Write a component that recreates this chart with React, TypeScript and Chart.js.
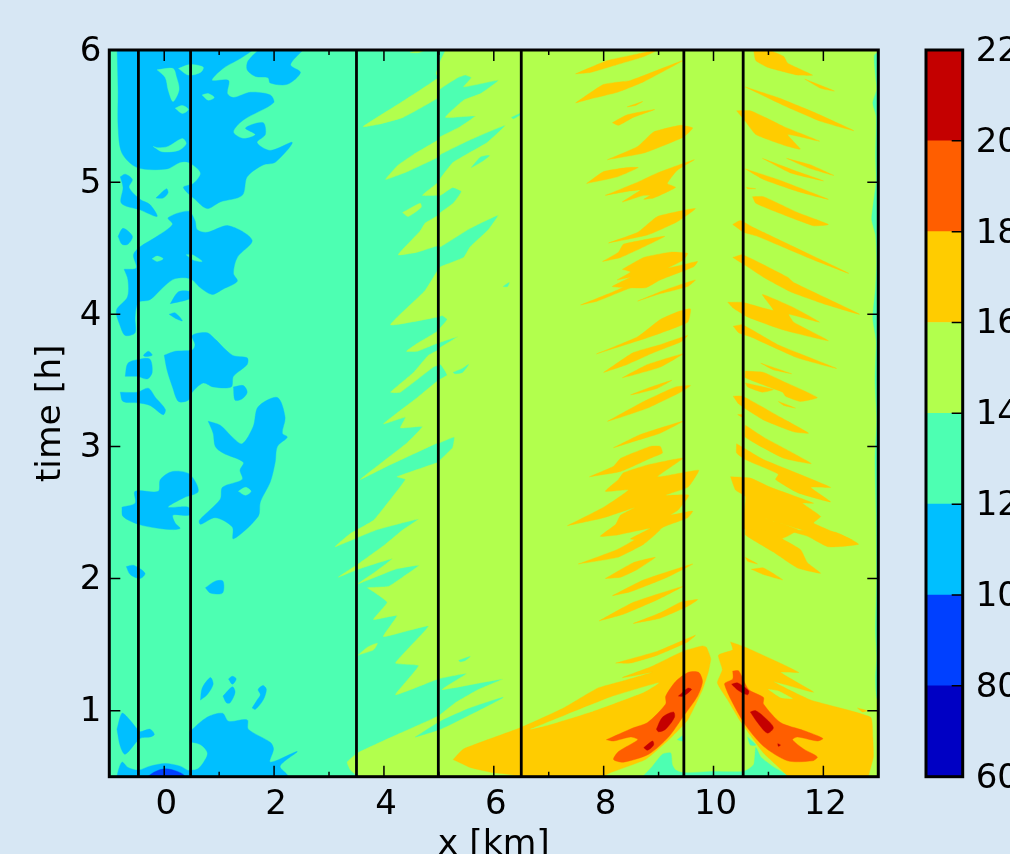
import React, { useEffect, useRef } from "react";
import { Chart, registerables } from "chart.js";

Chart.register(...registerables);

const timeLabelFont = '"DejaVu Sans"';
const bandEdges = [60, 80, 100, 120, 140, 160, 180, 200, 220];
const bandColors = ["#0000c4", "#0040ff", "#00bfff", "#4dffb2", "#b2ff4d", "#ffcc00", "#ff5e00", "#c40000"];
const verticalLinesKm = [-0.47, 0.48, 3.5, 4.99, 6.5, 9.46, 10.54];

// Contour regions: flat lists of x [km], time [h] pairs.
const wholeDomain = [-1, 0.5, 13, 0.5, 13, 6, -1, 6];

const band140Field = [5.2,6.3,5.12,6,5.03,5.92,4.95,5.82,4.99,5.79,4.30,5.60,3.62,5.42,3.93,5.44,4.35,5.49,4.99,5.64,5.01,5.70,5.34,5.79,5.48,5.81,5.59,5.79,5.45,5.72,6.08,5.77,5.76,5.67,5.45,5.62,5.12,5.49,5.66,5.50,5.39,5.42,5.01,5.34,4.99,5.32,4.54,5.21,4.26,5.13,4.03,5.02,4.43,5.08,4.99,5.19,5.03,5.21,5.57,5.32,6.21,5.43,5.88,5.30,5.26,5.15,5.03,5.03,4.99,5.00,4.70,4.90,4.99,4.90,5.03,4.90,5.25,4.96,5.41,4.93,5.26,4.84,5.03,4.77,4.99,4.75,4.75,4.69,4.66,4.63,4.26,4.45,4.61,4.47,4.99,4.52,5.03,4.51,5.57,4.65,6.08,4.75,5.90,4.64,5.57,4.51,5.45,4.43,5.03,4.36,4.99,4.34,4.75,4.18,4.12,3.92,4.99,3.98,5.06,3.99,5.15,3.96,5.03,3.90,4.97,3.87,4.61,3.78,4.41,3.72,4.61,3.72,4.97,3.78,5.34,3.83,5.03,3.75,4.99,3.73,4.81,3.69,4.54,3.56,4.12,3.41,4.30,3.41,4.90,3.60,5.03,3.62,5.15,3.54,4.99,3.50,4.61,3.37,3.99,3.17,4.39,3.22,4.30,3.14,4.70,3.15,4.43,3.03,3.57,2.75,4.06,2.85,4.99,3.03,5.03,3.03,5.28,3.07,5.25,2.99,5.03,2.90,4.99,2.88,4.24,2.77,4.39,2.75,4.12,2.60,3.81,2.44,3.39,2.34,3.11,2.24,3.52,2.31,3.88,2.37,4.63,2.45,4.35,2.37,4.03,2.26,3.53,2.11,3.17,2.01,3.53,2.07,4.15,2.15,3.84,2.05,3.53,1.96,4.21,2.07,4.64,2.10,4.34,2.01,4.08,1.94,3.70,1.93,3.81,1.90,4.06,1.82,3.81,1.69,4.24,1.72,3.99,1.56,4.81,1.64,4.21,1.36,4.63,1.34,4.21,1.12,4.99,1.24,5.50,1.28,5.06,1.16,6.16,1.24,5.72,1.16,5.30,1.06,4.99,0.96,4.30,0.83,3.52,0.68,3.33,0.61,3.39,0.55,3.52,0.5,3.6,0.3,13.5,0.3,13.5,6.3];

const band140Islands = [
  [3.53,1.42,3.70,1.48,3.88,1.51,3.81,1.46],
  [4.48,5.98,4.63,6,4.75,6,4.63,5.98],
  [4.34,4.77,4.66,4.84,4.68,4.81,4.44,4.74],
];

const band120InField = [
  [5.59,5.11,5.76,5.19,5.92,5.20,5.76,5.15],
  [6.32,5.49,6.48,5.52,6.48,5.51,6.36,5.48],
  [6.17,4.21,6.28,4.24,6.25,4.21],
  [5.26,3.56,5.43,3.59,5.54,3.62,5.43,3.56,5.30,3.55],
  [5.36,1.38,5.57,1.41,5.48,1.38,5.39,1.37],
  [4.57,0.80,5.03,0.92,5.57,1.02,6.17,1.10,5.57,0.97,5.03,0.86],
  [13.05,6,12.93,5.96,12.95,5.8,12.97,5.7,12.9,5.6,12.96,5.5,12.95,5.2,12.96,5.0,12.88,4.72,12.95,4.6,12.97,4.4,12.95,4.2,12.9,3.97,12.96,3.8,12.94,3.5,12.97,3.2,12.94,2.9,12.96,2.5,12.97,2,12.95,1.6,12.97,1.4,12.95,1.25,12.97,1.1,13.05,1.05],
];

const band100 = [
  [-0.86,6.05,-0.84,5.70,-0.84,5.42,-0.77,5.22,-0.49,5.11,0.05,5.10,0.29,5.15,0.44,5.15,0.66,5.07,0.53,4.99,0.35,4.96,0.56,4.87,0.78,4.80,1.02,4.85,1.42,4.90,1.51,5.04,1.80,5.13,2.02,5.15,2.33,5.30,1.93,5.24,1.69,5.30,1.84,5.36,1.80,5.45,1.48,5.41,1.66,5.36,1.44,5.33,1.26,5.38,1.44,5.47,1.99,5.60,1.93,5.66,1.57,5.68,1.26,5.64,1.15,5.67,1.17,5.77,0.87,5.77,1.07,5.86,1.44,5.95,1.72,6.05],
  [1.85,6.05,1.53,5.92,1.51,5.85,1.66,5.80,1.89,5.79,1.93,5.75,2.24,5.74,2.48,5.83,2.30,5.89,2.60,6.05],
  [-0.80,5.04,-0.71,5.06,-0.58,5.02,-0.64,4.96,-0.44,4.87,-0.26,4.83,-0.13,4.74,-0.44,4.79,-0.78,4.84,-0.75,4.96],
  [-0.15,4.88,0.04,4.95,0.07,4.92,-0.02,4.88],
  [-0.84,4.59,-0.75,4.65,-0.58,4.59,-0.66,4.53,-0.77,4.53],
  [-0.73,4.34,-0.51,4.35,-0.56,4.45,-0.44,4.51,-0.13,4.59,0.15,4.68,0.07,4.73,0.44,4.78,0.56,4.71,0.60,4.64,0.78,4.62,1.17,4.67,1.60,4.56,1.33,4.43,1.26,4.31,1.33,4.25,1.07,4.19,0.87,4.15,0.66,4.20,0.47,4.27,0.20,4.27,0.02,4.22,-0.26,4.11,-0.47,4.09,-0.53,3.98,-0.53,3.86,-0.71,3.84,-0.80,3.91,-0.87,4.03,-0.67,4.13,-0.66,4.26],
  [0.11,4.08,0.26,4.17,0.47,4.17,0.47,4.12],
  [0.09,4.00,0.20,4.01,0.33,3.95,0.20,3.97],
  [0,3.69,0.20,3.72,0.51,3.73,0.56,3.77,0.51,3.84,0.78,3.86,0.93,3.81,1.24,3.69,1.51,3.67,1.51,3.62,1.26,3.53,1.22,3.45,0.89,3.45,0.71,3.48,0.51,3.41,0.44,3.35,0.26,3.34,0.15,3.45,0.05,3.58],
  [1.26,3.45,1.44,3.46,1.51,3.41,1.42,3.36,1.29,3.35],
  [-0.71,3.53,-0.66,3.63,-0.44,3.66,-0.26,3.66,-0.22,3.56,-0.31,3.51,-0.49,3.53],
  [-0.38,3.69,-0.29,3.72,-0.22,3.69,-0.35,3.68],
  [-0.80,3.41,-0.49,3.41,-0.29,3.44,-0.16,3.37,0.02,3.28,-0.02,3.24,-0.26,3.31,-0.49,3.33,-0.75,3.34],
  [0.80,3.19,1.02,3.16,1.24,3.07,1.42,3.02,1.62,3.15,1.71,3.30,2.06,3.37,2.20,3.22,2.15,3.10,2.24,3.07,2.06,3.00,2.02,2.88,1.93,2.73,1.75,2.58,1.71,2.47,1.26,2.30,1.24,2.39,0.93,2.46,0.66,2.41,0.64,2.44,1.02,2.60,1.06,2.69,1.42,2.75,1.38,2.82,1.44,2.88,1.07,2.95,0.93,3.00,0.89,3.10],
  [-0.77,2.54,-0.53,2.57,-0.53,2.66,-0.11,2.66,-0.07,2.75,0.15,2.81,0.46,2.79,0.62,2.66,0.35,2.61,0.07,2.54,0.44,2.54,0.46,2.48,0.16,2.48,0.20,2.42,0.29,2.38,0.16,2.37,-0.11,2.38,-0.47,2.41,-0.75,2.47],
  [-0.69,2.09,-0.56,2.10,-0.35,2.04,-0.44,2.00,-0.62,2.03],
  [0.75,1.93,0.93,1.98,1.07,1.98,1.06,1.89,0.84,1.89],
  [0.66,1.08,0.69,1.17,0.84,1.25,0.89,1.20,0.78,1.12],
  [1.07,1.11,1.24,1.18,1.29,1.14,1.20,1.06,1.13,1.06],
  [1.17,1.24,1.24,1.26,1.31,1.24,1.24,1.20],
  [1.60,1.02,1.69,1.08,1.75,1.12,1.71,1.16,1.80,1.19,1.86,1.16,1.80,1.08,1.66,1.01],
  [0.46,0.84,0.78,0.95,1.06,0.98,1.17,0.92,1.51,0.93,1.53,0.86,1.93,0.76,1.99,0.71,1.93,0.61,2.42,0.69,2.11,0.58,2.26,0.5,2.3,0.3,-0.9,0.3,-0.86,0.5,-0.77,0.61,-0.66,0.57,-0.47,0.55,-0.26,0.58,0.02,0.60,0.29,0.58,0.46,0.55],
  [-0.86,0.86,-0.77,0.98,-0.67,0.95,-0.49,0.86,-0.44,0.84,-0.26,0.86,-0.18,0.82,-0.26,0.80,-0.44,0.79,-0.71,0.67,-0.80,0.73],
];

const band120Holes = [
  [-0.13,5.85,0.16,5.86,0.22,5.80,0.27,5.70,0.16,5.61,0.07,5.70,0.02,5.79],
  [0.26,5.86,0.47,5.89,0.71,5.87,0.66,5.83,0.44,5.81],
  [0.69,5.66,0.80,5.67,0.91,5.64,0.80,5.62],
  [0.20,5.56,0.33,5.58,0.44,5.55,0.33,5.52],
  [-0.20,5.27,-0.11,5.26,0.07,5.27,0.33,5.33,0.40,5.29,0.26,5.24,-0.04,5.23],
  [-0.22,4.42,-0.13,4.44,-0.02,4.42,-0.13,4.40],
  [0.40,4.45,0.51,4.45,0.69,4.40,0.53,4.41],
  [1.35,2.66,1.48,2.69,1.58,2.66,1.48,2.63],
  [0.47,0.76,0.66,0.74,0.78,0.68,0.71,0.61,0.60,0.56,0.47,0.56],
];

const band80 = [[-0.31,0.5,-0.16,0.54,0.02,0.56,0.24,0.54,0.38,0.5,0.3,0.4,-0.2,0.4]];

const band160 = [
  [7.49,5.82,8.07,5.92,8.62,5.97,8.98,6,8.73,5.95,8.25,5.89,7.76,5.83],
  [7.49,5.60,8.00,5.74,8.49,5.77,9.44,5.92,8.73,5.76,8.25,5.68,7.76,5.63],
  [8.43,5.57,8.71,5.61,8.58,5.58],
  [8.16,5.45,8.43,5.51,8.93,5.55,8.54,5.49,8.27,5.43],
  [8.07,5.17,8.62,5.27,8.91,5.38,9.40,5.43,9.62,5.41,9.45,5.34,8.73,5.22],
  [7.69,4.99,8.00,5.08,8.43,5.11,8.63,5.11,8.25,5.04],
  [8.03,4.90,8.62,5.00,8.98,5.07,9.65,5.17,9.34,5.09,9.16,4.99,9.31,4.96,8.91,4.88,8.73,4.87,8.85,4.90,8.73,4.90,8.34,4.85,8.67,4.94,8.43,4.93],
  [8.09,4.54,8.62,4.62,8.98,4.74,9.67,4.80,9.34,4.70,8.80,4.60],
  [7.98,4.40,8.27,4.47,8.36,4.53,9.11,4.59,8.73,4.51,8.31,4.43],
  [8.34,4.34,8.73,4.43,9.22,4.47,9.53,4.46,9.45,4.41,9.18,4.35,9.71,4.40,9.64,4.36,9.03,4.26,8.76,4.20,8.16,4.21,8.49,4.28,8.25,4.26,8.49,4.32],
  [8.62,4.10,9.09,4.18,9.67,4.26,9.53,4.21,8.98,4.15],
  [7.58,4.07,8.12,4.16,8.62,4.25,8.98,4.26,8.49,4.20,7.89,4.10],
  [7.87,3.70,8.62,3.83,9.03,3.96,9.36,4.02,9.58,4.04,9.53,3.94,8.85,3.83,8.25,3.75],
  [8.00,3.56,8.54,3.71,9.03,3.77,9.53,3.84,9.40,3.79,8.91,3.71,8.43,3.62],
  [8.34,3.52,8.80,3.62,9.44,3.70,9.03,3.60,8.54,3.54],
  [8.49,3.39,8.80,3.44,9.24,3.50,8.98,3.44,8.62,3.40],
  [8.07,3.19,8.73,3.34,9.31,3.45,9.58,3.46,9.40,3.41,8.80,3.29,8.31,3.22],
  [8.18,2.99,8.67,3.09,9.44,3.19,9.03,3.10,8.49,3.03],
  [7.74,2.77,8.18,2.85,8.31,2.91,8.85,3.00,9.03,3.00,9.07,2.95,8.85,2.91,8.31,2.81],
  [7.34,2.40,8.00,2.54,8.45,2.67,8.03,2.66,8.27,2.75,8.36,2.80,8.80,2.86,9.44,2.91,8.98,2.77,9.73,2.82,9.64,2.75,9.53,2.69,9.13,2.63,9.55,2.63,9.36,2.52,9.22,2.48,9.62,2.51,9.53,2.46,9.09,2.39,8.73,2.29,8.49,2.30,8.85,2.38,8.25,2.33,7.94,2.32,8.22,2.41,8.31,2.48,8.58,2.54,8.00,2.46],
  [7.54,2.11,8.25,2.22,8.73,2.33,9.03,2.37,8.73,2.26,8.25,2.16],
  [8.03,2.00,8.54,2.12,8.94,2.16,8.62,2.07,8.31,2.01],
  [8.16,1.87,8.73,1.99,9.62,2.11,9.16,2.01,8.49,1.90],
  [7.92,1.68,8.54,1.82,9.44,1.94,8.98,1.84,8.36,1.73],
  [8.54,1.66,9.03,1.74,9.40,1.82,9.71,1.84,9.53,1.79,9.03,1.70],
  [8.22,1.36,8.98,1.45,9.67,1.57,9.53,1.52,8.98,1.42,8.49,1.36],
  [5.26,0.63,5.45,0.71,6.48,0.87,7.27,1.02,7.89,1.17,8.40,1.23,8.89,1.29,8.34,1.25,8.85,1.33,9.45,1.45,9.80,1.49,9.87,1.48,9.93,1.42,9.95,1.39,9.91,1.30,9.80,1.16,9.53,0.93,9.16,0.77,8.76,0.63,8.12,0.53,8.00,0.5,8,0.3,6.48,0.3,6.48,0.5,5.99,0.53,5.57,0.57],
  [10.31,1.52,10.58,1.48,11.55,1.29,11.22,1.29,11.82,1.14,11.09,1.22,11.77,1.08,12.86,0.95,12.90,0.80,12.91,0.65,12.82,0.5,12.8,0.3,11.35,0.3,11.35,0.5,10.91,0.68,10.49,0.92,10.26,1.08,10.07,1.21,10.16,1.31,10.09,1.42,10.35,1.46],
  [12.62,1.02,12.80,1.00,12.71,0.99],
  [10.73,6,11.00,6,11.28,5.95,11.35,5.90,11.80,5.81,11.53,5.81,10.98,5.87,10.77,5.92],
  [11.66,5.78,12.20,5.69,11.95,5.71],
  [10.58,5.72,11.17,5.64,11.82,5.53,12.55,5.39,11.95,5.46,11.28,5.58],
  [10.42,5.54,10.67,5.54,11.04,5.47,11.28,5.42,11.93,5.31,11.35,5.36,11.58,5.25,11.28,5.28,10.77,5.36,10.58,5.46],
  [10.89,5.18,11.46,5.09,12.00,5.01,11.40,5.07],
  [11.33,5.18,11.77,5.13,12.19,5.05,11.71,5.11],
  [10.58,5.10,11.17,5.02,12.09,4.87,11.53,4.93,10.91,5.02],
  [10.60,4.96,10.77,4.95,10.62,4.95],
  [10.71,4.89,10.91,4.89,11.53,4.77,12.09,4.68,11.82,4.67,11.17,4.77,10.77,4.84],
  [10.35,4.68,10.49,4.71,10.71,4.66,10.91,4.62,12.46,4.31,11.71,4.43,10.80,4.59,10.55,4.62],
  [10.35,4.43,10.53,4.45,11.35,4.28,11.46,4.24,12.66,4.00,12.00,4.08,11.40,4.17,10.91,4.28,10.58,4.37],
  [10.26,4.09,10.53,4.09,11.09,4.03,10.89,4.15,11.46,4.05,11.93,3.94,11.37,4.00,11.46,3.94,12.09,3.80,11.28,3.88,10.62,3.98,10.35,4.05],
  [10.36,3.91,10.53,3.92,11.17,3.77,12.24,3.59,11.53,3.67,10.67,3.83,10.46,3.86],
  [10.86,3.63,11.42,3.55,11.09,3.58],
  [10.58,3.57,10.91,3.56,11.28,3.49,11.89,3.37,11.58,3.34,11.31,3.38,11.26,3.41,10.58,3.52],
  [10.58,3.48,11.09,3.43,10.89,3.41,10.62,3.45],
  [11.18,3.34,11.49,3.29,11.28,3.31],
  [10.36,3.38,10.53,3.38,11.22,3.22,11.73,3.10,11.46,3.11,10.91,3.20,10.46,3.32],
  [10.44,3.24,10.53,3.24,10.53,3.22],
  [10.58,3.16,10.91,3.07,11.40,2.96,11.78,2.87,11.28,2.91,10.58,3.07],
  [10.42,3.02,10.62,2.97,10.91,2.90,12.13,2.69,11.77,2.69,12.13,2.58,11.53,2.65,11.13,2.75,11.18,2.79,10.58,2.90,10.42,2.95],
  [10.31,2.77,10.67,2.76,11.04,2.69,11.82,2.57,11.62,2.57,11.95,2.47,11.82,2.42,12.53,2.29,11.77,2.35,10.82,2.47,11.53,2.37,11.17,2.29,10.55,2.38,10.58,2.62,10.40,2.67],
  [10.58,2.37,10.91,2.37,11.58,2.22,11.71,2.12,11.95,2.04,11.53,2.08,11.09,2.20,10.58,2.33],
  [11.28,2.37,12.22,2.35,12.64,2.26,12.09,2.24,11.71,2.32],
  [10.58,2.16,10.80,2.11,10.62,2.13],
  [10.69,2.07,10.91,2.08,11.26,1.99,10.91,2.03],
];

const band140Wedges = [
  [6.67,0.86,7.27,0.96,8.18,1.11,9.00,1.21,8.73,1.14,7.76,0.99,6.98,0.89],
  [11.00,1.16,11.17,1.15,11.44,1.09,11.22,1.10],
];

const band180 = [
  [8.05,0.78,8.54,0.87,8.80,0.91,9.13,1.05,9.13,1.11,9.31,1.22,9.54,1.29,9.73,1.29,9.80,1.22,9.71,1.11,9.44,0.95,9.18,0.80,8.82,0.67,8.36,0.61,8.18,0.63,8.27,0.69,8.62,0.78,8.49,0.80,8.18,0.77],
  [10.35,1.30,10.46,1.30,10.64,1.16,10.91,1.10,10.91,1.05,11.22,0.91,11.64,0.85,11.99,0.79,11.89,0.77,11.53,0.80,11.44,0.78,11.64,0.71,11.89,0.65,11.80,0.62,11.35,0.62,10.91,0.73,10.55,0.91,10.20,1.20,10.35,1.24],
];

const band200 = [
  [9.36,1.11,9.53,1.17,9.60,1.16,9.45,1.11],
  [8.96,0.86,9.07,0.95,9.27,0.99,9.29,0.95,9.13,0.86,9.00,0.84],
  [8.73,0.72,8.89,0.77,8.91,0.74,8.80,0.70],
  [10.33,1.20,10.44,1.21,10.64,1.15,10.62,1.12,10.46,1.15],
  [10.67,0.99,10.77,1.00,10.98,0.93,11.09,0.87,10.98,0.83,10.80,0.91],
  [11.17,0.75,11.22,0.74,11.18,0.73],
];

const band120Bottom = [
  [8.71,0.5,8.89,0.58,9.07,0.67,9.22,0.68,9.25,0.59,9.31,0.55,9.45,0.53,10.00,0.54,10.55,0.54,10.73,0.59,10.77,0.72,10.86,0.65,11.07,0.58,11.35,0.5,11.35,0.3,8.71,0.3],
  [9.34,0.78,9.44,0.81,9.44,0.77],
  [10.62,0.80,10.77,0.74,10.67,0.74],
];

const TEAL = bandColors[3];
const LIME = bandColors[4];

const closed = (flat: number[]) => {
  const pts: { x: number; y: number }[] = [];
  for (let i = 0; i < flat.length; i += 2) pts.push({ x: flat[i], y: flat[i + 1] });
  pts.push({ ...pts[0] });
  return pts;
};

const region = (flat: number[], color: string, tension = 0.3) => ({
  data: closed(flat),
  showLine: true,
  fill: "shape",
  tension,
  backgroundColor: color,
  borderColor: color,
  borderWidth: 0.4,
  pointRadius: 0,
});

const paintOrder = () => [
  region(wholeDomain, TEAL, 0),
  region(band140Field, LIME, 0.12),
  ...band140Islands.map((p) => region(p, LIME, 0.2)),
  ...band120InField.map((p) => region(p, TEAL, 0.2)),
  ...band100.map((p) => region(p, bandColors[2])),
  ...band120Holes.map((p) => region(p, TEAL)),
  ...band80.map((p) => region(p, bandColors[1])),
  ...band160.map((p) => region(p, bandColors[5], 0.14)),
  ...band140Wedges.map((p) => region(p, LIME, 0.15)),
  ...band180.map((p) => region(p, bandColors[6], 0.25)),
  ...band200.map((p) => region(p, bandColors[7])),
  ...band120Bottom.map((p) => region(p, TEAL, 0.2)),
  ...verticalLinesKm.map((x) => ({
    data: [{ x, y: 0.5 }, { x, y: 6 }],
    showLine: true,
    fill: false,
    borderColor: "#000",
    borderWidth: 2.8,
    pointRadius: 0,
  })),
];

const framePlugin = {
  id: "frame",
  afterDatasetsDraw(chart: any) {
    const { ctx, chartArea: a, scales } = chart;
    ctx.save();
    ctx.strokeStyle = "#000";
    ctx.lineWidth = 1.5;
    ctx.beginPath();
    if (chart.config.type === "bar") {
      for (const t of scales.y.ticks) {
        const p = scales.y.getPixelForValue(t.value);
        ctx.moveTo(a.right, p);
        ctx.lineTo(a.right - 11, p);
      }
    } else {
      for (const t of scales.x.ticks) {
        const p = scales.x.getPixelForValue(t.value);
        const len = t.value % 2 === 0 ? 11 : 5;
        ctx.moveTo(p, a.bottom);
        ctx.lineTo(p, a.bottom - len);
        ctx.moveTo(p, a.top);
        ctx.lineTo(p, a.top + len);
      }
      for (const t of scales.y.ticks) {
        const p = scales.y.getPixelForValue(t.value);
        ctx.moveTo(a.left, p);
        ctx.lineTo(a.left + 11, p);
        ctx.moveTo(a.right, p);
        ctx.lineTo(a.right - 11, p);
      }
    }
    ctx.stroke();
    ctx.lineWidth = 3;
    ctx.strokeRect(a.left, a.top, a.right - a.left, a.bottom - a.top);
    ctx.restore();
  },
};

const tickFont = { family: timeLabelFont, size: 34 };
const titleFont = { family: timeLabelFont, size: 34.5 };

export default function App() {
  const mainRef = useRef<HTMLCanvasElement>(null);
  const barRef = useRef<HTMLCanvasElement>(null);

  useEffect(() => {
    const main = new Chart(mainRef.current!, {
      type: "scatter",
      data: { datasets: paintOrder().reverse() as any },
      plugins: [framePlugin],
      options: {
        animation: false,
        responsive: false,
        devicePixelRatio: 1,
        events: [],
        layout: { padding: { top: 50, right: 131.7, left: 0, bottom: 0 } },
        plugins: { legend: { display: false }, tooltip: { enabled: false }, title: { display: false } },
        scales: {
          x: {
            type: "linear",
            min: -1,
            max: 13,
            afterFit: (s: any) => { s.height = 77.3; },
            grid: { display: false, drawTicks: false },
            border: { display: false },
            ticks: {
              stepSize: 1,
              autoSkip: false,
              maxRotation: 0,
              padding: 8,
              labelOffset: 2,
              color: "#000",
              font: tickFont,
              callback: (v: any) => (Number(v) % 2 === 0 ? String(v) : ""),
            },
            title: { display: true, text: "x [km]", color: "#000", font: titleFont, padding: { top: 0, bottom: -12 } },
          },
          y: {
            type: "linear",
            min: 0.5,
            max: 6,
            afterFit: (s: any) => { s.width = 109.3; },
            grid: { display: false, drawTicks: false },
            border: { display: false },
            ticks: { stepSize: 1, includeBounds: false, padding: 8, labelOffset: 2, color: "#000", font: tickFont },
            title: { display: true, text: "time [h]", color: "#000", font: titleFont, padding: { top: 30, bottom: 0 } },
          },
        },
      } as any,
    });

    const bar = new Chart(barRef.current!, {
      type: "bar",
      data: {
        labels: ["level"],
        datasets: bandColors.map((c, i) => ({
          data: [[bandEdges[i], bandEdges[i + 1]]],
          backgroundColor: c,
          borderWidth: 0,
          grouped: false,
          barPercentage: 1,
          categoryPercentage: 1,
        })) as any,
      },
      plugins: [framePlugin],
      options: {
        animation: false,
        responsive: false,
        devicePixelRatio: 1,
        events: [],
        layout: { padding: { top: 50, right: 0, left: 926, bottom: 77.3 } },
        plugins: { legend: { display: false }, tooltip: { enabled: false } },
        scales: {
          x: { display: false },
          y: {
            type: "linear",
            position: "right",
            min: 60,
            max: 220,
            afterFit: (s: any) => { s.width = 47.3; },
            grid: { display: false, drawTicks: false },
            border: { display: false },
            ticks: { stepSize: 20, autoSkip: false, padding: 13, labelOffset: 2, color: "#000", font: tickFont },
          },
        },
      } as any,
    });

    return () => {
      main.destroy();
      bar.destroy();
    };
  }, []);

  return (
    <div style={{ position: "absolute", left: 0, top: 0, width: 1010, height: 854, overflow: "hidden", background: "#d7e7f4" }}>
      <canvas ref={mainRef} width={1010} height={854} style={{ position: "absolute", left: 0, top: 0 }} />
      <canvas ref={barRef} width={1010} height={854} style={{ position: "absolute", left: 0, top: 0 }} />
    </div>
  );
}
